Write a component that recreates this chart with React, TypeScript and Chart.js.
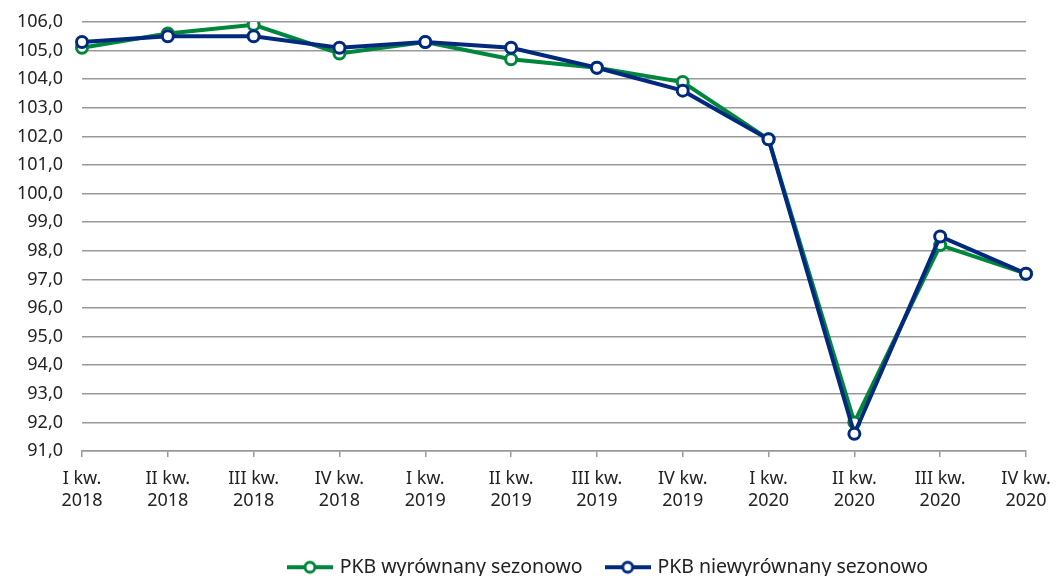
import React, { useEffect, useRef } from "react";
import { Chart, registerables } from "chart.js";

Chart.register(...registerables);

const categories: string[][] = [
  ["I kw.", "2018"], ["II kw.", "2018"], ["III kw.", "2018"], ["IV kw.", "2018"],
  ["I kw.", "2019"], ["II kw.", "2019"], ["III kw.", "2019"], ["IV kw.", "2019"],
  ["I kw.", "2020"], ["II kw.", "2020"], ["III kw.", "2020"], ["IV kw.", "2020"],
];
const seasonallyAdjusted = [105.1, 105.6, 105.9, 104.9, 105.3, 104.7, 104.4, 103.9, 101.9, 92.0, 98.2, 97.2];
const notAdjusted = [105.3, 105.5, 105.5, 105.1, 105.3, 105.1, 104.4, 103.6, 101.9, 91.6, 98.5, 97.2];
const seriesNames = ["PKB wyrównany sezonowo", "PKB niewyrównany sezonowo"];
const yMin = 91;
const yMax = 106;

const GREEN = "#00873C";
const BLUE = "#012A7F";
const FONT = "'Noto Sans', 'DejaVu Sans', sans-serif";
Chart.defaults.font.family = FONT;

function legendIcon(color: string): HTMLCanvasElement {
  const c = document.createElement("canvas");
  c.width = 46;
  c.height = 16;
  const ctx = c.getContext("2d")!;
  ctx.strokeStyle = color;
  ctx.lineWidth = 4;
  ctx.beginPath();
  ctx.moveTo(0, 8);
  ctx.lineTo(46, 8);
  ctx.stroke();
  ctx.beginPath();
  ctx.arc(23, 8, 5, 0, Math.PI * 2);
  ctx.fillStyle = "#fff";
  ctx.fill();
  ctx.lineWidth = 3;
  ctx.stroke();
  return c;
}

const legendShift = {
  id: "legendShift",
  afterLayout(chart: any) {
    const lg = chart.legend;
    if (!lg) return;
    lg.left += 192;
    lg.top += 11;
    lg.bottom += 11;
  },
};

export default function App() {
  const ref = useRef<HTMLCanvasElement | null>(null);
  useEffect(() => {
    if (!ref.current) return;
    const icons = [legendIcon(GREEN), legendIcon(BLUE)];
    const chart = new Chart(ref.current, {
      type: "line",
      data: {
        labels: categories,
        datasets: [
          {
            label: seriesNames[0],
            data: seasonallyAdjusted,
            borderColor: GREEN,
            backgroundColor: "#fff",
            borderWidth: 4,
            pointRadius: 5.5,
            pointBorderWidth: 3,
            pointBackgroundColor: "#fff",
            pointBorderColor: GREEN,
            tension: 0,
            order: 1,
          },
          {
            label: seriesNames[1],
            data: notAdjusted,
            borderColor: BLUE,
            backgroundColor: "#fff",
            borderWidth: 4,
            pointRadius: 5.5,
            pointBorderWidth: 3,
            pointBackgroundColor: "#fff",
            pointBorderColor: BLUE,
            tension: 0,
            order: 0,
          },
        ],
      },
      plugins: [legendShift],
      options: {
        animation: false,
        responsive: true,
        maintainAspectRatio: false,
        layout: { padding: { top: 22, right: 30, left: 0, bottom: 0 } },
        scales: {
          x: {
            offset: false,
            grid: {
              drawOnChartArea: false,
              drawTicks: true,
              tickLength: 6,
              color: "#999",
              lineWidth: 1.5,
            },
            border: { display: true, color: "#999", width: 1.5 },
            ticks: {
              color: "#222",
              font: { family: FONT, size: 18 },
              padding: 11,
              maxRotation: 0,
              autoSkip: false,
            },
            afterFit: (s: any) => {
              s.height = 70.5;
              s.paddingRight = 0;
            },
          },
          y: {
            min: yMin,
            max: yMax,
            grid: { color: "#999", lineWidth: 1.5, drawTicks: true, tickLength: 19, tickColor: "rgba(0,0,0,0)" },
            border: { display: false },
            ticks: {
              stepSize: 1,
              color: "#222",
              padding: 0,
              font: { family: FONT, size: 18 },
              callback: (v: any) => Number(v).toFixed(1).replace(".", ","),
            },
            afterFit: (s: any) => {
              s.width = 82;
              s.paddingTop = 0;
              s.paddingBottom = 0;
            },
          },
        },
        plugins: {
          tooltip: { enabled: false },
          legend: {
            position: "bottom",
            labels: {
              usePointStyle: true,
              pointStyleWidth: 40,
              padding: 25,
              color: "#222",
              font: { family: FONT, size: 19.5 },
              sort: (a: any, b: any) => a.datasetIndex - b.datasetIndex,
              generateLabels: (ch: any) => {
                const items = Chart.defaults.plugins.legend.labels.generateLabels(ch);
                return items.map((it: any) => ({ ...it, pointStyle: icons[it.datasetIndex] }));
              },
            },
          },
        },
      },
    });
    let alive = true;
    const redraw = () => {
      if (alive) chart.update();
    };
    if ((document as any).fonts) {
      Promise.all([
        (document as any).fonts.load("18px 'Noto Sans'", "I kw. 2018 106,0"),
        (document as any).fonts.load("19.5px 'Noto Sans'", "PKB"),
      ])
        .then(redraw)
        .catch(() => {});
      (document as any).fonts.ready.then(redraw).catch(() => {});
    }
    return () => {
      alive = false;
      chart.destroy();
    };
  }, []);
  return (
    <div style={{ position: "fixed", left: 0, top: 0, width: 1056, height: 576, background: "#fff" }}>
      <canvas ref={ref} />
    </div>
  );
}
